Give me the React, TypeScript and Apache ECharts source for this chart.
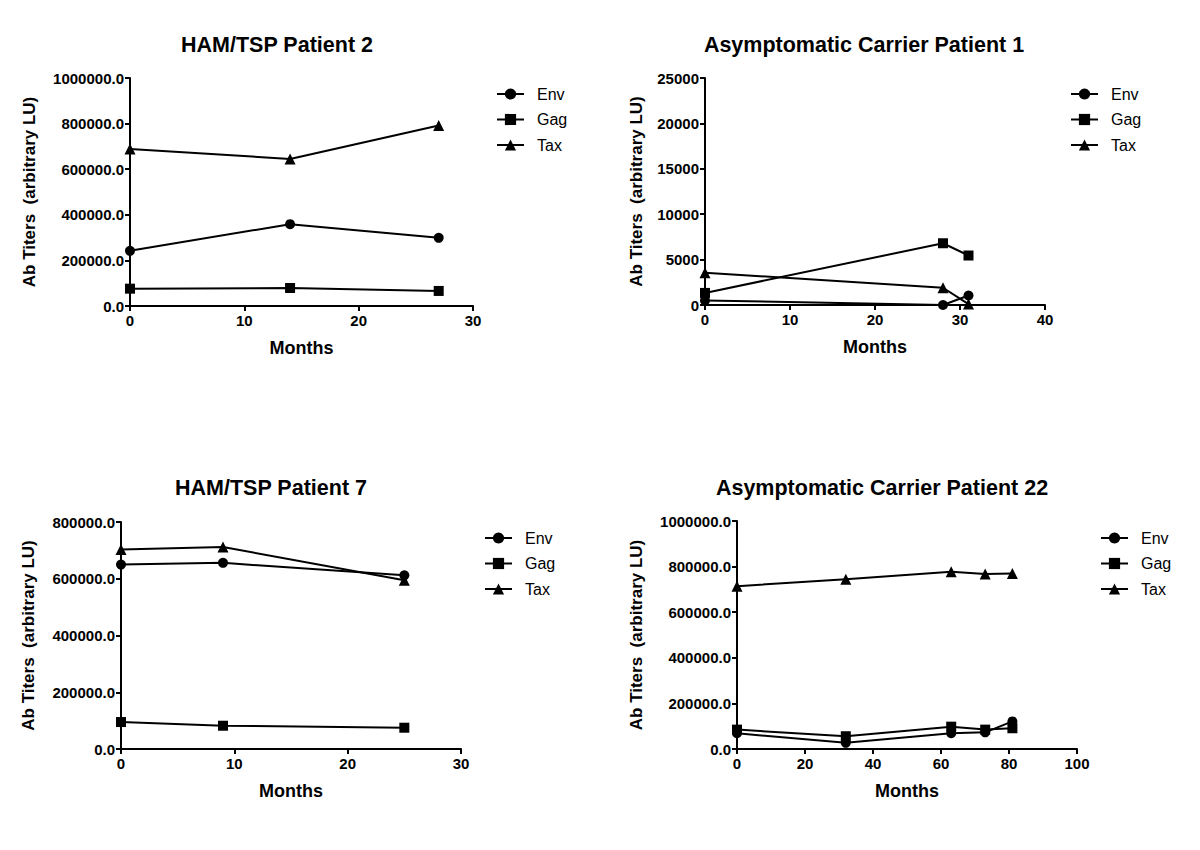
import React, { useEffect, useRef } from "react";
import * as echarts from "echarts";

// ---- Data ----
const seriesNames = ["Env", "Gag", "Tax"];
const symbols = ["circle", "rect", "triangle"];

const titles = [
  "HAM/TSP Patient 2",
  "Asymptomatic Carrier Patient 1",
  "HAM/TSP Patient 7",
  "Asymptomatic Carrier Patient 22",
];

// Panel 1: HAM/TSP Patient 2
const months1 = [0, 14, 27];
const env1 = [242000, 359000, 299000];
const gag1 = [76000, 79000, 66000];
const tax1 = [689000, 645000, 792000];

// Panel 2: Asymptomatic Carrier Patient 1
const months2 = [0, 28, 31];
const env2 = [500, 0, 1050];
const gag2 = [1330, 6800, 5450];
const tax2 = [3550, 1900, 100];

// Panel 3: HAM/TSP Patient 7
const months3 = [0, 9, 25];
const env3 = [650000, 656000, 612000];
const gag3 = [95000, 82000, 75000];
const tax3 = [703000, 712000, 595000];

// Panel 4: Asymptomatic Carrier Patient 22
const months4 = [0, 32, 63, 73, 81];
const env4 = [69000, 27000, 69000, 73000, 121000];
const gag4 = [85000, 56000, 98000, 85000, 91000];
const tax4 = [714000, 745000, 777000, 768000, 770000];

// Axis ranges: [min, max, interval]
const xRanges = [
  [0, 30, 10],
  [0, 40, 10],
  [0, 30, 10],
  [0, 100, 20],
];
const yRanges = [
  [0, 1000000, 200000],
  [0, 25000, 5000],
  [0, 800000, 200000],
  [0, 1000000, 200000],
];
const yDecimals = [1, 0, 1, 1];

const panels = [
  { months: months1, values: [env1, gag1, tax1] },
  { months: months2, values: [env2, gag2, tax2] },
  { months: months3, values: [env3, gag3, tax3] },
  { months: months4, values: [env4, gag4, tax4] },
];

// ---- Layout ----
const FONT = "'Liberation Sans', Arial, Helvetica, sans-serif";
const grids = [
  { left: 130, top: 78, width: 343, height: 228 },
  { left: 705, top: 78, width: 340, height: 227 },
  { left: 121, top: 522, width: 340, height: 227 },
  { left: 737, top: 521, width: 340, height: 228 },
];
const titlePos = [
  [277, 45],
  [864, 45],
  [271, 488],
  [882, 488],
];
const legendPos = [
  [496, 86],
  [1070, 86],
  [484, 530],
  [1100, 530],
];
const yNameGap = [92, 60, 84, 92];

export default function App() {
  const ref = useRef<HTMLDivElement>(null);

  useEffect(() => {
    if (!ref.current) return;
    const chart = echarts.init(ref.current, null, { renderer: "svg" });

    const axisCommon = {
      axisLine: { show: true, onZero: false, lineStyle: { color: "#000", width: 2 } },
      axisTick: { show: true, inside: false, length: 5, lineStyle: { color: "#000", width: 2 } },
      splitLine: { show: false },
    };

    const xAxis = xRanges.map((r, i) => ({
      type: "value",
      gridIndex: i,
      min: r[0],
      max: r[1],
      interval: r[2],
      name: "Months",
      nameLocation: "middle",
      nameGap: 33,
      nameTextStyle: { fontFamily: FONT, fontWeight: "bold", fontSize: 18, color: "#000" },
      axisLabel: { fontFamily: FONT, fontWeight: "bold", fontSize: 15, color: "#000", margin: 7 },
      ...axisCommon,
    }));

    const yAxis = yRanges.map((r, i) => ({
      type: "value",
      gridIndex: i,
      min: r[0],
      max: r[1],
      interval: r[2],
      name: "Ab Titers  (arbitrary LU)",
      nameLocation: "middle",
      nameGap: yNameGap[i],
      nameTextStyle: { fontFamily: FONT, fontWeight: "bold", fontSize: 17, color: "#000" },
      axisLabel: {
        fontFamily: FONT,
        fontWeight: "bold",
        fontSize: 15,
        color: "#000",
        margin: 6,
        formatter: (v: number) => v.toFixed(yDecimals[i]),
      },
      ...axisCommon,
    }));

    const series: any[] = [];
    panels.forEach((p, i) => {
      p.values.forEach((vals, k) => {
        series.push({
          type: "line",
          name: seriesNames[k],
          xAxisIndex: i,
          yAxisIndex: i,
          data: p.months.map((m, j) => [m, vals[j]]),
          symbol: symbols[k],
          symbolSize: k === 2 ? 11 : 10,
          showAllSymbol: true,
          lineStyle: { color: "#000", width: 2 },
          itemStyle: { color: "#000" },
          emphasis: { disabled: true },
        });
      });
    });

    const legend = legendPos.map((pos) => ({
      left: pos[0],
      top: pos[1],
      padding: 0,
      orient: "vertical",
      itemWidth: 27,
      itemHeight: 14,
      itemGap: 9.5,
      selectedMode: false,
      data: seriesNames,
      textStyle: { fontFamily: FONT, fontSize: 16, color: "#000", padding: [0, 0, 0, 8] },
    }));

    const graphic = titles.map((t, i) => ({
      type: "text",
      x: titlePos[i][0],
      y: titlePos[i][1],
      style: {
        text: t,
        fontFamily: FONT,
        fontWeight: "bold",
        fontSize: 21.5,
        fill: "#000",
        align: "center",
        verticalAlign: "middle",
        textAlign: "center",
        textVerticalAlign: "middle",
      },
    }));

    chart.setOption({
      animation: false,
      backgroundColor: "#fff",
      grid: grids.map((g) => ({ ...g, containLabel: false })),
      xAxis,
      yAxis,
      series,
      legend,
      graphic,
    });

    return () => chart.dispose();
  }, []);

  return (
    <div
      ref={ref}
      style={{ position: "absolute", left: 0, top: 0, width: 1200, height: 850, background: "#fff" }}
    />
  );
}
